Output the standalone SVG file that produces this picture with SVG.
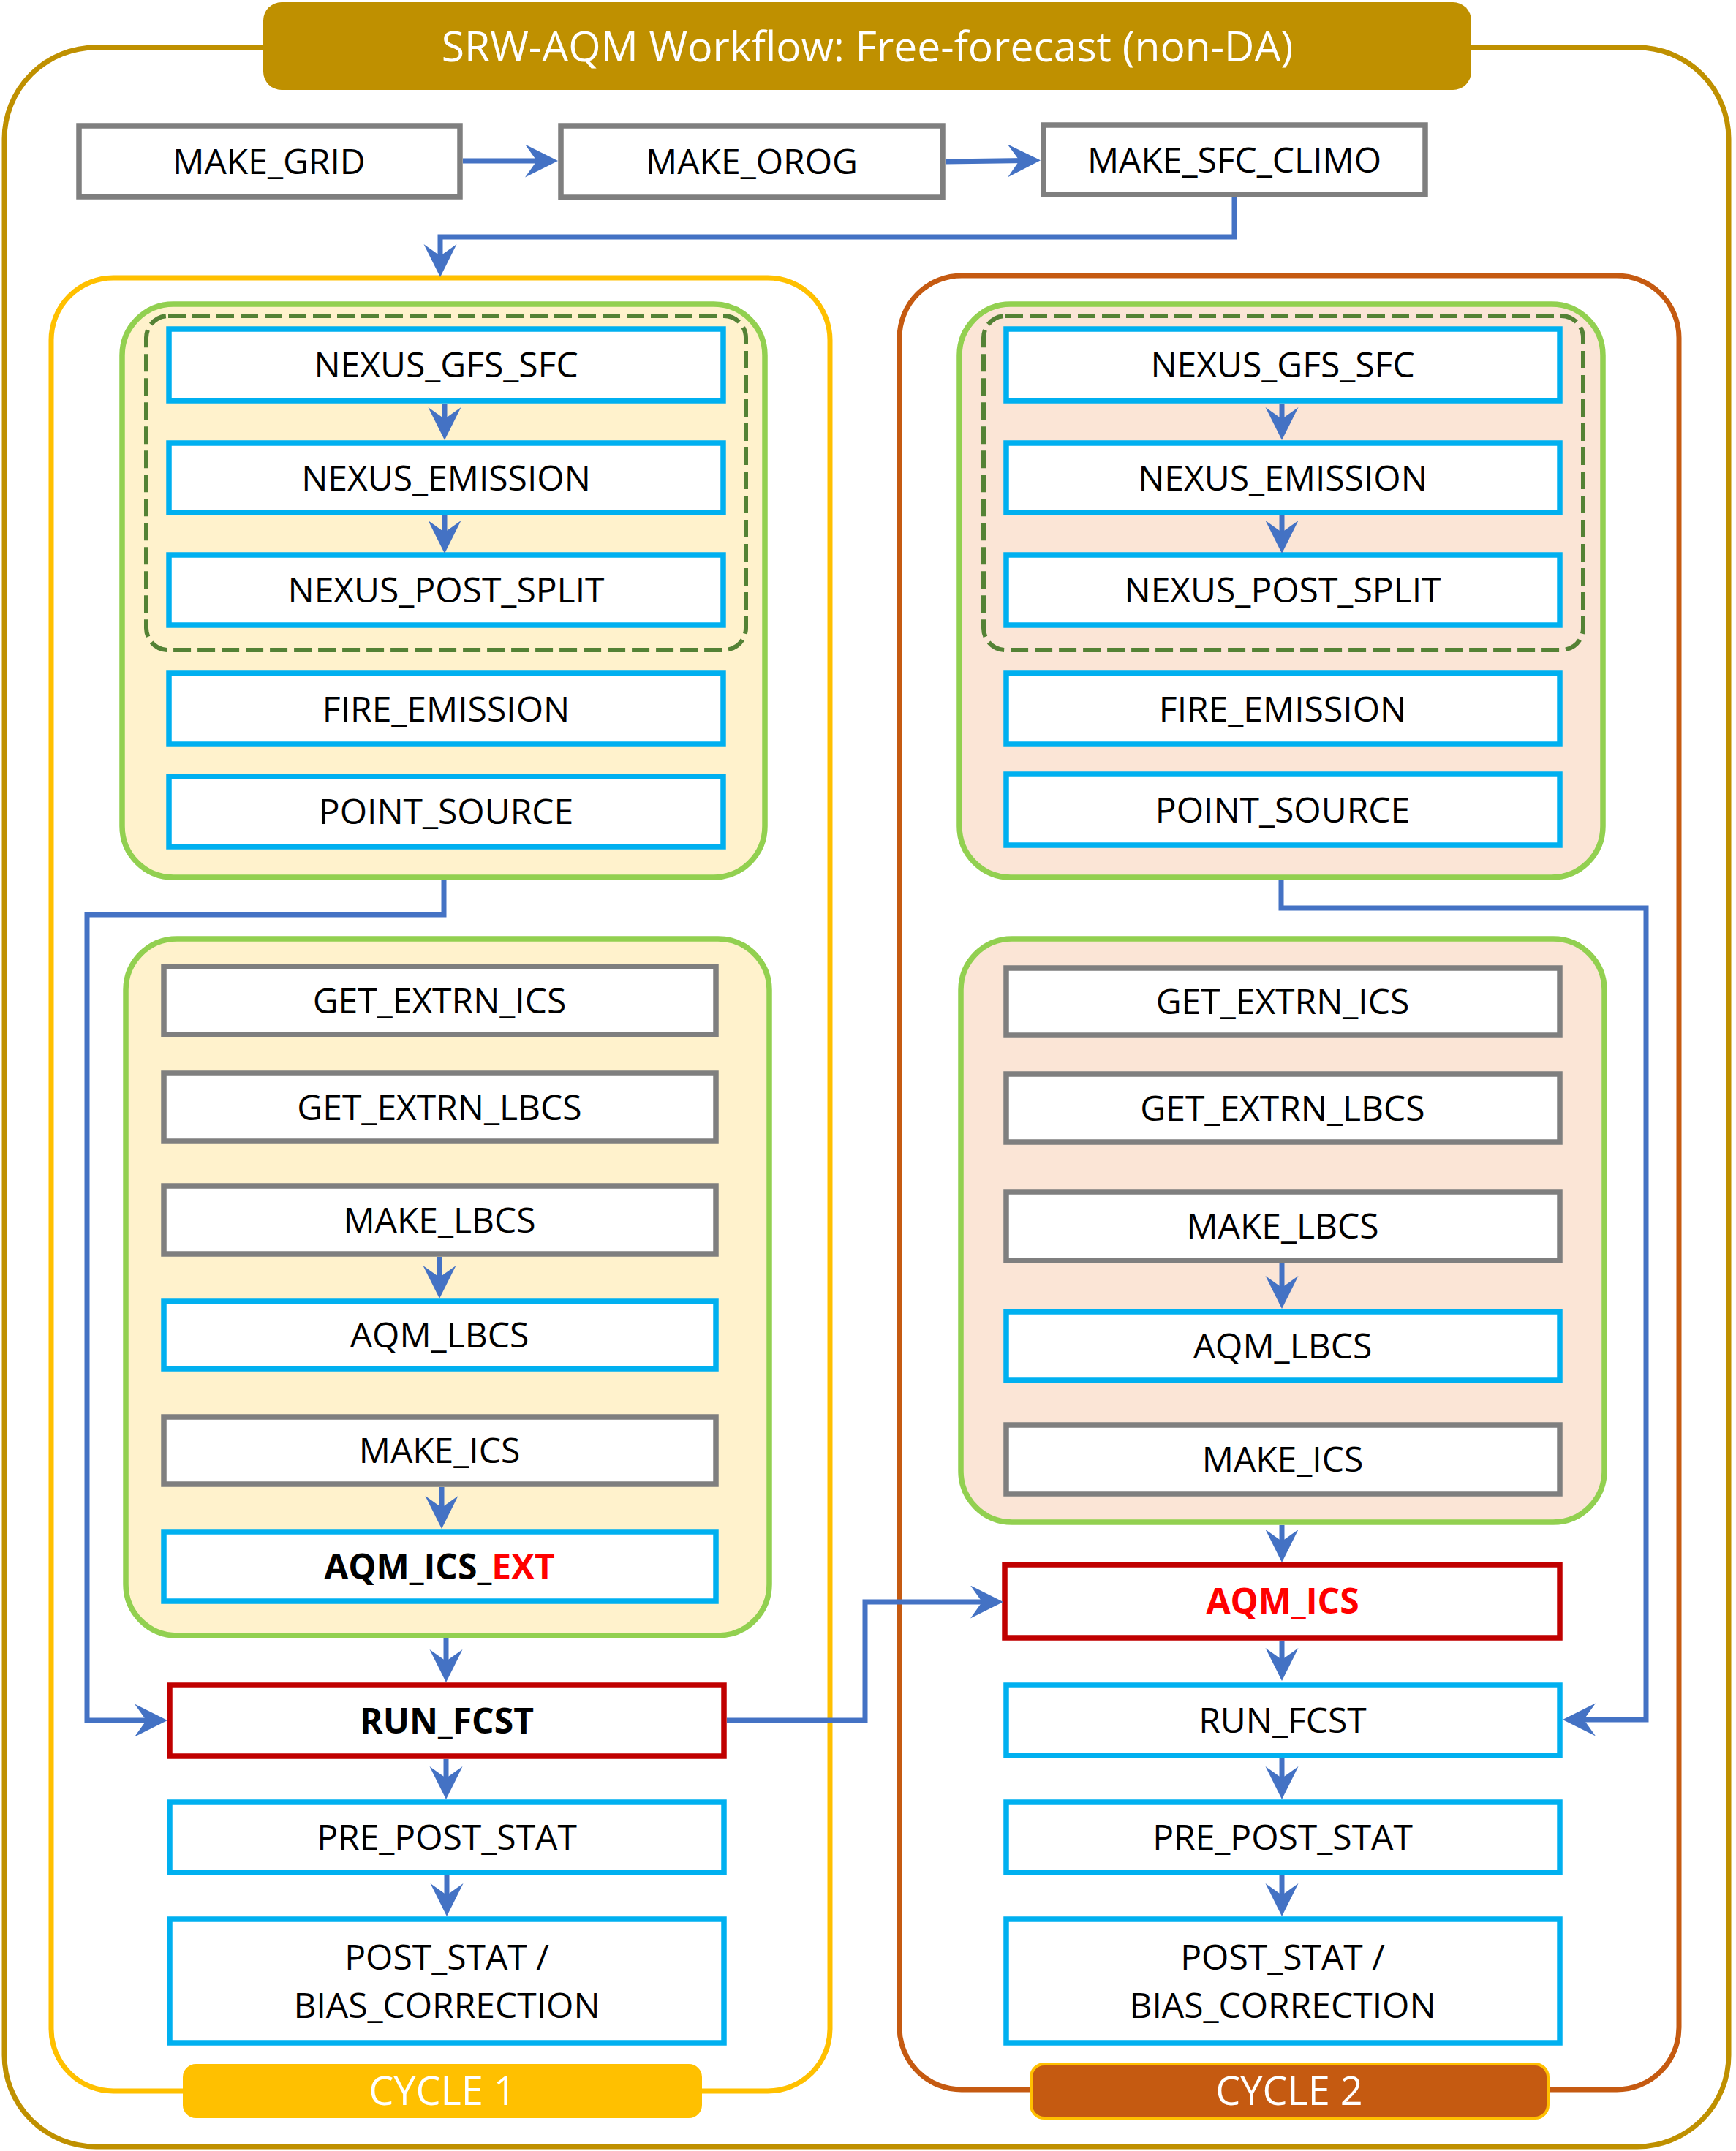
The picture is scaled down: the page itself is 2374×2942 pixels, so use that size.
<svg xmlns="http://www.w3.org/2000/svg" width="2374" height="2942" viewBox="0 0 2374 2942">
<style>
.lbl{font-family:"Open Sans","Liberation Sans",sans-serif;font-size:48px;text-anchor:middle;fill:#000}
.b{font-weight:bold}
.red{fill:#FF0000}
.blue{fill:#fff;stroke:#00B0F0;stroke-width:7.5}
.gray{fill:#fff;stroke:#7F7F7F;stroke-width:7.5}
.redb{fill:#fff;stroke:#C00000;stroke-width:7.5}
.grp{stroke:#92D050;stroke-width:7.5}
.dash{fill:none;stroke:#548235;stroke-width:6;stroke-dasharray:24 9}
.con{fill:none;stroke:#4472C4;stroke-width:7;marker-end:url(#arr)}
.wt{font-family:"Open Sans","Liberation Sans",sans-serif;fill:#fff;text-anchor:middle}
</style>
<defs>
<marker id="arr" markerUnits="userSpaceOnUse" markerWidth="46" markerHeight="46" viewBox="0 0 46 46" refX="25" refY="22.5" orient="auto">
<path d="M45,22.5 L0,0 L16,22.5 L0,45 Z" fill="#4472C4"/>
</marker>
</defs>
<rect width="2374" height="2942" fill="#fff"/>
<g id="frame">
<rect x="6" y="65" width="2358" height="2871" rx="125" ry="125" fill="#fff" stroke="#BF9000" stroke-width="7"/>
<rect x="360" y="3" width="1652" height="120" rx="25" ry="25" fill="#BF9000"/>
<text class="wt" x="1186" y="84" font-size="57">SRW-AQM Workflow: Free-forecast (non-DA)</text>
</g>
<g id="cycle1">
<rect x="70" y="380" width="1065" height="2480" rx="85" ry="85" fill="#fff" stroke="#FFC000" stroke-width="7"/>
</g>
<g id="cycle2">
<rect x="1230" y="377" width="1066" height="2481" rx="85" ry="85" fill="#fff" stroke="#C55A11" stroke-width="7"/>
</g>
<g id="group1a">
<rect class="grp" x="167" y="416" width="879" height="784" rx="70" ry="70" fill="#FFF2CC"/>
<rect class="dash" x="200" y="432" width="820" height="457" rx="30" ry="30"/>
</g>
<g id="group1b">
<rect class="grp" x="172" y="1284" width="880" height="953" rx="70" ry="70" fill="#FFF2CC"/>
</g>
<g id="group2a">
<rect class="grp" x="1312" y="416" width="880" height="784" rx="70" ry="70" fill="#FBE5D6"/>
<rect class="dash" x="1345" y="432" width="820" height="457" rx="30" ry="30"/>
</g>
<g id="group2b">
<rect class="grp" x="1314" y="1284" width="880" height="798" rx="70" ry="70" fill="#FBE5D6"/>
</g>

<g id="make_grid"><rect class="gray" x="108" y="172" width="521" height="97"/><text class="lbl" x="368" y="238">MAKE_GRID</text></g>
<g id="make_orog"><rect class="gray" x="767" y="172" width="522" height="98"/><text class="lbl" x="1028" y="238">MAKE_OROG</text></g>
<g id="make_sfc_climo"><rect class="gray" x="1427" y="171" width="522" height="95"/><text class="lbl" x="1688" y="236">MAKE_SFC_CLIMO</text></g>

<g id="c1_nexus_gfs_sfc"><rect class="blue" x="231" y="450" width="758" height="98"/><text class="lbl" x="610" y="516">NEXUS_GFS_SFC</text></g>
<g id="c1_nexus_emission"><rect class="blue" x="231" y="606" width="758" height="95"/><text class="lbl" x="610" y="671">NEXUS_EMISSION</text></g>
<g id="c1_nexus_post_split"><rect class="blue" x="231" y="759" width="758" height="96"/><text class="lbl" x="610" y="824">NEXUS_POST_SPLIT</text></g>
<g id="c1_fire_emission"><rect class="blue" x="231" y="921" width="758" height="97"/><text class="lbl" x="610" y="987">FIRE_EMISSION</text></g>
<g id="c1_point_source"><rect class="blue" x="231" y="1062" width="758" height="96"/><text class="lbl" x="610" y="1127">POINT_SOURCE</text></g>
<g id="c1_get_extrn_ics"><rect class="gray" x="224" y="1322" width="755" height="93"/><text class="lbl" x="601" y="1386">GET_EXTRN_ICS</text></g>
<g id="c1_get_extrn_lbcs"><rect class="gray" x="224" y="1468" width="755" height="93"/><text class="lbl" x="601" y="1532">GET_EXTRN_LBCS</text></g>
<g id="c1_make_lbcs"><rect class="gray" x="224" y="1622" width="755" height="93"/><text class="lbl" x="601" y="1686">MAKE_LBCS</text></g>
<g id="c1_aqm_lbcs"><rect class="blue" x="224" y="1780" width="755" height="92"/><text class="lbl" x="601" y="1843">AQM_LBCS</text></g>
<g id="c1_make_ics"><rect class="gray" x="224" y="1938" width="755" height="92"/><text class="lbl" x="601" y="2001">MAKE_ICS</text></g>
<g id="c1_aqm_ics_ext"><rect class="blue" x="224" y="2095" width="755" height="95"/><text class="lbl b" x="601" y="2160">AQM_ICS_<tspan class="red">EXT</tspan></text></g>
<g id="c1_run_fcst"><rect class="redb" x="232" y="2305" width="758" height="97"/><text class="lbl b" x="611" y="2371">RUN_FCST</text></g>
<g id="c1_pre_post_stat"><rect class="blue" x="232" y="2465" width="758" height="96"/><text class="lbl" x="611" y="2530">PRE_POST_STAT</text></g>
<g id="c1_post_stat"><rect class="blue" x="232" y="2625" width="758" height="169"/><text class="lbl" x="611" y="2694">POST_STAT /</text><text class="lbl" x="611" y="2760">BIAS_CORRECTION</text></g>

<g id="c2_nexus_gfs_sfc"><rect class="blue" x="1376" y="450" width="757" height="98"/><text class="lbl" x="1754" y="516">NEXUS_GFS_SFC</text></g>
<g id="c2_nexus_emission"><rect class="blue" x="1376" y="606" width="757" height="95"/><text class="lbl" x="1754" y="671">NEXUS_EMISSION</text></g>
<g id="c2_nexus_post_split"><rect class="blue" x="1376" y="759" width="757" height="96"/><text class="lbl" x="1754" y="824">NEXUS_POST_SPLIT</text></g>
<g id="c2_fire_emission"><rect class="blue" x="1376" y="921" width="757" height="97"/><text class="lbl" x="1754" y="987">FIRE_EMISSION</text></g>
<g id="c2_point_source"><rect class="blue" x="1376" y="1059" width="757" height="97"/><text class="lbl" x="1754" y="1125">POINT_SOURCE</text></g>
<g id="c2_get_extrn_ics"><rect class="gray" x="1376" y="1324" width="757" height="92"/><text class="lbl" x="1754" y="1387">GET_EXTRN_ICS</text></g>
<g id="c2_get_extrn_lbcs"><rect class="gray" x="1376" y="1469" width="757" height="93"/><text class="lbl" x="1754" y="1533">GET_EXTRN_LBCS</text></g>
<g id="c2_make_lbcs"><rect class="gray" x="1376" y="1630" width="757" height="94"/><text class="lbl" x="1754" y="1694">MAKE_LBCS</text></g>
<g id="c2_aqm_lbcs"><rect class="blue" x="1376" y="1794" width="757" height="94"/><text class="lbl" x="1754" y="1858">AQM_LBCS</text></g>
<g id="c2_make_ics"><rect class="gray" x="1376" y="1949" width="757" height="94"/><text class="lbl" x="1754" y="2013">MAKE_ICS</text></g>
<g id="c2_aqm_ics"><rect class="redb" x="1374" y="2140" width="759" height="100"/><text class="lbl b red" x="1754" y="2207">AQM_ICS</text></g>
<g id="c2_run_fcst"><rect class="blue" x="1376" y="2305" width="757" height="96"/><text class="lbl" x="1754" y="2370">RUN_FCST</text></g>
<g id="c2_pre_post_stat"><rect class="blue" x="1376" y="2465" width="757" height="96"/><text class="lbl" x="1754" y="2530">PRE_POST_STAT</text></g>
<g id="c2_post_stat"><rect class="blue" x="1376" y="2625" width="757" height="169"/><text class="lbl" x="1754" y="2694">POST_STAT /</text><text class="lbl" x="1754" y="2760">BIAS_CORRECTION</text></g>

<g id="connectors">
<path class="con" d="M633,220 L743,220"/>
<path class="con" d="M1293,221 L1403,219.5"/>
<path class="con" d="M1688,270 V324 H602 V359"/>
<path class="con" d="M608,552 V582"/>
<path class="con" d="M608,705 V737"/>
<path class="con" d="M607,1204 V1251 H119 V2353 H209"/>
<path class="con" d="M601,1719 V1756"/>
<path class="con" d="M604,2034 V2071"/>
<path class="con" d="M610,2240 V2281"/>
<path class="con" d="M610,2406 V2441"/>
<path class="con" d="M611,2565 V2601"/>
<path class="con" d="M994,2353 H1183 V2191 H1352"/>
<path class="con" d="M1753,552 V582"/>
<path class="con" d="M1753,705 V737"/>
<path class="con" d="M1752,1204 V1242 H2251 V2352 H2157"/>
<path class="con" d="M1753,1728 V1770"/>
<path class="con" d="M1753,2086 V2117"/>
<path class="con" d="M1753,2244 V2279"/>
<path class="con" d="M1753,2405 V2441"/>
<path class="con" d="M1753,2565 V2601"/>
</g>

<g id="cycle1_label"><rect x="250" y="2823" width="710" height="74" rx="18" ry="18" fill="#FFC000"/><text class="wt" x="605" y="2879" font-size="54">CYCLE 1</text></g>
<g id="cycle2_label"><rect x="1410" y="2823" width="707" height="74" rx="18" ry="18" fill="#C55A11" stroke="#FFC000" stroke-width="4"/><text class="wt" x="1763" y="2879" font-size="54">CYCLE 2</text></g>
</svg>
